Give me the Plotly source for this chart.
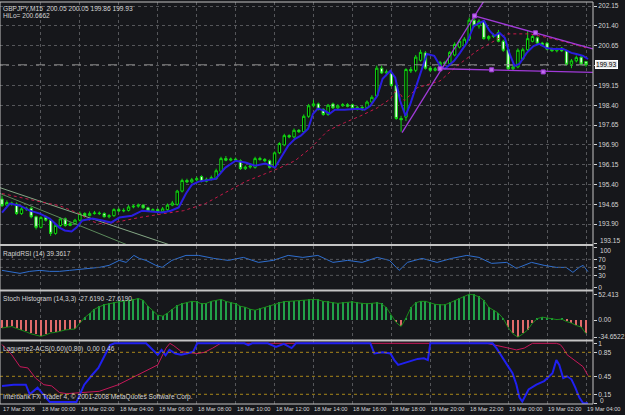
import plotly.graph_objects as go
from plotly.subplots import make_subplots

# ---------------- data ----------------
bar_index = list(range(121))
open_ = [194.85,194.62,194.70,194.66,194.30,194.47,194.50,194.18,193.78,194.15,
         194.05,193.55,193.85,194.10,193.85,193.92,194.05,194.30,194.22,194.30,
         194.32,194.30,194.18,194.22,194.45,194.40,194.42,194.55,194.58,194.62,
         194.52,194.40,194.45,194.38,194.45,194.62,194.65,195.15,195.55,195.50,
         195.58,195.70,195.52,195.60,195.62,195.90,196.38,196.32,196.36,196.30,
         196.00,196.06,196.05,196.38,196.35,196.30,196.05,196.60,196.90,197.25,
         197.20,197.45,197.40,197.98,198.38,198.45,198.25,198.05,198.45,198.30,
         198.38,198.42,198.42,198.28,198.32,198.30,198.52,198.75,199.80,199.62,
         199.60,199.15,197.90,197.95,199.75,199.72,200.10,200.38,199.80,199.72,
         199.78,200.02,199.98,200.30,200.60,200.65,200.90,201.62,201.40,201.58,
         200.92,201.00,201.15,200.82,200.50,199.78,199.85,200.15,200.50,200.82,
         200.95,200.75,200.75,200.52,200.46,200.56,200.46,199.95,200.08,200.22,
         200.05]
high = [194.98,194.80,194.75,194.72,194.55,194.56,194.55,194.22,194.20,194.22,
        194.10,193.90,194.15,194.15,193.98,194.10,194.38,194.35,194.38,194.40,
        194.38,194.35,194.28,194.50,194.52,194.50,194.62,194.65,194.68,194.66,
        194.56,194.50,194.50,194.55,194.68,194.78,195.20,195.62,195.62,195.65,
        195.70,195.75,195.66,195.74,196.00,196.45,196.48,196.42,196.42,196.35,
        196.12,196.18,196.45,196.45,196.40,196.35,196.65,197.00,197.32,197.30,
        197.52,197.50,198.05,198.45,198.60,198.50,198.28,198.45,198.50,198.44,
        198.48,198.48,198.46,198.38,198.38,198.58,198.78,199.90,199.90,199.75,
        199.68,199.20,198.00,199.80,199.85,200.30,200.50,200.45,199.88,199.85,
        200.08,200.08,200.45,200.78,200.90,200.98,201.72,201.80,201.65,201.62,
        201.05,201.12,201.25,200.88,200.55,199.92,200.55,200.58,201.20,201.05,
        201.00,200.80,200.80,200.58,200.58,200.60,200.50,200.15,200.28,200.26,
        200.05]
low = [194.55,194.58,194.60,194.25,194.25,194.40,194.12,193.70,193.74,194.00,
       193.45,193.50,193.80,193.80,193.82,193.88,194.00,194.18,194.20,194.26,
       194.25,194.15,194.12,194.18,194.36,194.35,194.38,194.50,194.52,194.48,
       194.36,194.36,194.34,194.35,194.40,194.58,194.60,195.10,195.45,195.45,
       195.52,195.48,195.48,195.55,195.58,195.85,196.28,196.28,196.28,195.95,
       195.95,196.00,196.00,196.30,196.25,196.00,196.00,196.55,196.85,197.15,
       197.15,197.35,197.35,197.92,198.32,198.20,198.00,198.00,198.26,198.25,
       198.34,198.32,198.24,198.20,198.18,198.26,198.48,198.70,199.58,199.50,
       199.10,197.85,197.40,197.80,199.62,199.65,200.05,199.75,199.65,199.68,
       199.74,199.92,199.94,200.25,200.55,200.60,200.85,201.35,201.30,200.88,
       200.85,200.95,200.78,200.42,199.72,199.70,199.80,200.10,200.45,200.78,
       200.70,200.62,200.48,200.42,200.40,200.42,199.90,199.80,200.02,199.90,
       199.86]
close = [194.60,194.72,194.66,194.30,194.48,194.50,194.18,193.78,194.15,194.05,
         193.55,193.85,194.10,193.85,193.92,194.05,194.30,194.22,194.30,194.32,
         194.30,194.18,194.22,194.45,194.40,194.42,194.55,194.58,194.62,194.52,
         194.40,194.45,194.38,194.48,194.62,194.70,195.15,195.55,195.50,195.58,
         195.62,195.52,195.60,195.66,195.92,196.38,196.32,196.36,196.33,196.00,
         196.06,196.10,196.38,196.35,196.30,196.05,196.60,196.95,197.25,197.20,
         197.45,197.40,197.98,198.38,198.45,198.25,198.05,198.40,198.30,198.38,
         198.42,198.36,198.28,198.32,198.30,198.52,198.70,199.80,199.62,199.66,
         199.15,197.90,197.85,199.75,199.70,200.22,200.40,199.80,199.72,199.78,
         200.02,199.98,200.40,200.70,200.82,200.90,201.62,201.40,201.58,200.92,
         201.00,201.05,200.82,200.48,199.78,199.85,200.48,200.50,200.92,201.00,
         200.75,200.70,200.52,200.46,200.50,200.46,199.95,200.08,200.20,199.96,
         199.93]

# fast moving average (blue) read at these bar positions
ma_fast_idx = [0,1.6,3.7,5.7,7.8,9.8,11.8,12.9,14.3,15.3,16.5,18.6,20.6,22.4,24.1,26.7,28.8,30.8,32.9,34.7,
               36.3,37.8,39.0,40.4,41.8,43.9,45.9,48.0,50.0,52.0,54.1,56.1,57.3,58.8,60.2,61.4,62.9,63.9,64.9,66.3,
               67.3,68.4,70.4,73.1,74.5,75.7,77.1,78.2,79.8,80.8,81.8,82.9,83.9,85.7,87.3,88.8,90.0,91.0,92.9,94.1,
               95.5,96.9,99.0,100.2,101.2,102.2,103.3,104.3,105.3,106.3,107.8,109.2,110.4,111.8,113.3,115.3,117.0,118.0,119.4,120.4]
ma_fast_val = [194.34,194.68,194.60,194.41,194.30,194.11,193.77,193.66,193.62,193.77,194.04,194.11,194.04,193.96,194.15,194.22,194.41,194.38,194.34,194.41,
               194.53,195.06,195.39,195.51,195.55,195.62,196.04,196.30,196.23,196.11,196.19,196.04,196.41,196.87,197.13,197.25,197.51,198.08,198.27,198.19,
               198.08,198.23,198.23,198.27,198.23,198.38,198.76,199.40,199.70,199.44,198.57,198.00,198.45,199.44,200.34,200.27,199.89,199.78,200.08,200.38,
               200.76,201.40,201.59,201.21,201.02,201.14,200.95,200.34,199.89,199.96,200.38,200.64,200.72,200.57,200.53,200.53,200.38,200.34,200.27,200.15]
# slow moving average (crimson dotted)
ma_slow_idx = [0,3.7,7.8,11.8,15.9,18.0,20.0,23.1,28.2,33.3,37.3,41.8,45.9,50.0,54.1,56.7,60.2,63.5,66.9,70.4,
               73.7,77.1,79.8,81.2,82.7,85.3,90.0,93.5,97.6,101.0,103.7,108.4,112.4,116.5,120.0]
ma_slow_val = [195.06,194.90,194.75,194.60,194.30,194.04,193.92,193.96,194.15,194.30,194.41,194.68,195.09,195.51,195.81,196.00,196.30,196.79,197.43,197.74,
               198.00,198.30,198.64,199.02,198.57,199.06,199.32,199.89,200.46,200.83,201.10,201.10,200.95,200.76,200.57]

# drawn trend lines: (bar position, price) anchors
trend_up_idx = [82.2, 99.0]
trend_up_px = [197.36, 202.34]
trend_dn_idx = [97.1, 121.4]
trend_dn_px = [201.78, 200.53]
trend_dn_pts_idx = [97.1, 109.6]
trend_dn_pts_px = [201.78, 201.14]
trend_flat_idx = [90.0, 121.4]
trend_flat_px = [199.78, 199.64]
trend_flat_pts_idx = [90.0, 100.6, 111.2]
trend_flat_pts_px = [199.78, 199.74, 199.66]
chan1_idx = [-0.4, 34.9]
chan1_px = [195.28, 193.09]
chan2_idx = [-0.4, 26.1]
chan2_px = [195.06, 193.09]
bid_price = 199.93

# RapidRSI
rsi_idx = [0,1.6,3.7,5.7,7.8,9.8,11.8,13.9,16.5,18.6,20,22,24.1,25.5,27.1,28.2,29.6,31.6,32.9,34.9,37.8,40.4,
           43.5,46.5,49.6,52.7,55.7,58.8,61.8,64.9,68,71,74,77.1,79.6,81.6,83.3,86.3,89.4,92.4,95.5,98,
           100.6,103.7,105.7,108.8,111.4,113.9,115.9,117.3,118.6,119.4,120.4]
rsi_val = [42.5,40,35,40,42.5,40,40,42.5,45,47.5,50,55,67.5,62.5,80,72.5,67.5,55,50,67.5,80,80,
           72.5,67.5,75,62.5,67.5,80,75,80,62.5,67.5,62.5,75,67.5,42.5,62.5,72.5,62.5,72.5,80,75,
           60,62.5,47.5,62.5,55,50,50,37.5,50,55,39.36]

# Stoch histogram (one value per bar)
stoch_val = [-16,-14,-13,-17,-20,-24,-28,-30,-33,-30,
             -26,-25,-22,-20,-19,-18,-6,5,13,22,
             27,31,33,35.6,37,38.5,39,41,44,40,
             28,18,10,8,14,22,29,33,36,38,
             37,33,34,38,40,42,38,35,33,28,
             26,22,20,23,26,29,32,35,37.5,38,
             38.5,38.8,40,41,42,41,38,37,35,34,
             35,36,37,35,33.6,33,34,35,33,25,
             10,-5,-13,4,25,35,38,38,35,32,
             31,31,35,39,44,48,52.41,51,47,40,
             26,20,14,3,-15,-28,-34.65,-28,-20,-6,
             3,6,4,2,1,2,-3,-6,-11,-14,
             -27.62]

# Laguerre lines
lag_fast_idx = [0,2.4,4.9,5.7,7.3,8.6,9.8,15.3,16.9,18.6,19.8,21.0,22.2,23.1,29.6,32.0,32.8,33.6,34.4,35.6,
                36.8,38.0,39.3,40.1,49.8,50.6,51.4,54.6,56.3,57.9,59.5,60.4,75.7,76.5,78.2,79.8,80.6,81.4,82.6,83.8,
                85.4,86.7,87.5,88.0,100.8,101.6,103.3,104.9,105.7,106.3,106.9,108.2,109.8,111.4,113.1,113.9,114.5,115.3,116.1,117.0,
                117.8,118.6,119.4,120.4]
lag_fast_val = [0.29,0.31,0.31,0.15,0.26,0.14,0.02,0.02,0.31,0.48,0.59,0.78,0.97,1.0,1.0,0.81,0.89,0.80,0.89,0.83,
                0.81,0.83,0.86,1.0,1.0,0.97,1.0,1.0,0.94,0.99,0.92,1.0,1.0,0.83,0.85,0.83,0.72,0.64,0.67,0.70,
                0.74,0.75,0.72,1.0,1.0,0.92,0.70,0.50,0.31,0.10,0.03,0.23,0.31,0.37,0.50,0.72,0.64,0.42,0.45,0.40,
                0.26,0.10,0.0,0.0]
lag_slow_idx = [0,2.0,3.7,5.3,6.9,8.6,10.2,11.8,13.3,15.9,20.0,23.9,28.0,32.0,33.7,34.5,35.3,36.9,40.0,41.6,
                43.3,44.9,99.6,101.6,104.1,105.7,107.3,109.0,113.9,114.7,115.3,116.1,117.8,119.4,120.4]
lag_slow_val = [0.98,0.81,0.61,0.59,0.42,0.31,0.29,0.18,0.16,0.18,0.20,0.31,0.48,0.64,0.92,1.0,0.96,0.86,0.83,0.85,
                0.92,1.0,1.0,0.97,0.92,0.89,0.92,1.0,1.0,0.98,0.92,0.81,0.70,0.61,0.46]

# axis ticks
date_tick_idx = [0,8,16,24,32,40,48,56,64,72,80,88,96,104,112,120]
date_tick_text = ["17 Mar 2008","18 Mar 00:00","18 Mar 02:00","18 Mar 04:00","18 Mar 06:00",
                  "18 Mar 08:00","18 Mar 10:00","18 Mar 12:00","18 Mar 14:00","18 Mar 16:00",
                  "18 Mar 18:00","18 Mar 20:00","18 Mar 22:00","19 Mar 00:00","19 Mar 02:00","19 Mar 04:00"]
price_ticks = [193.15,193.90,194.65,195.40,196.15,196.90,197.65,198.40,199.15,199.90,200.65,201.40,202.15]
price_tick_text = ["","193.90","194.65","195.40","196.15","196.90","197.65","198.40","199.15","",
                   "200.65","201.40","202.15"]
price_bottom_label = 193.15
rsi_ticks = [0,30,50,70,100]
rsi_tick_text = ["0","30","50","70",""]
rsi_top_label = 100
rsi_levels = [30,50,70]
stoch_ticks = [-34.6522,0,52.413]
stoch_tick_text = ["-34.6522","0.00","52.413"]
lag_ticks = [0,0.15,0.45,0.85,1]
lag_tick_text = ["","0.15","0.45","0.85","1"]
lag_bottom_label = 0
lag_levels = [0.15,0.45,0.85]

# ---------------- style ----------------
BG = "#16171b"
GRID = "#55565a"
TXT = "#d4d4d4"
FONT = "Liberation Sans, Arial, sans-serif"
FS = 6.6
FS_DATE = 5.7
XR = [-0.41, 121.43]
DOM = {1: [0.398, 1.0], 2: [0.284, 0.393], 3: [0.160, 0.280], 4: [0.0, 0.156]}

fig = make_subplots(rows=4, cols=1, shared_xaxes=True, vertical_spacing=0.0)

fig.add_trace(go.Scatter(x=chan1_idx, y=chan1_px, mode="lines",
                         line=dict(color="#86a886", width=1)), row=1, col=1)
fig.add_trace(go.Scatter(x=chan2_idx, y=chan2_px, mode="lines",
                         line=dict(color="#5c8a5c", width=1)), row=1, col=1)
fig.add_trace(go.Scatter(x=[XR[0], XR[1]], y=[bid_price, bid_price], mode="lines",
                         line=dict(color="#8a8a8a", width=1, dash="dash")), row=1, col=1)
fig.add_trace(go.Candlestick(x=bar_index, open=open_, high=high, low=low, close=close,
                             increasing=dict(line=dict(color="#10d810", width=1), fillcolor="#000000"),
                             decreasing=dict(line=dict(color="#10d810", width=1), fillcolor="#f4fff4"),
                             whiskerwidth=0), row=1, col=1)
fig.add_trace(go.Scatter(x=ma_slow_idx, y=ma_slow_val, mode="lines",
                         line=dict(color="#c81848", width=1, dash="dot")), row=1, col=1)
fig.add_trace(go.Scatter(x=ma_fast_idx, y=ma_fast_val, mode="lines",
                         line=dict(color="#2a1ee0", width=2)), row=1, col=1)
for xs, ys in [(trend_up_idx, trend_up_px), (trend_dn_idx, trend_dn_px), (trend_flat_idx, trend_flat_px)]:
    fig.add_trace(go.Scatter(x=xs, y=ys, mode="lines", line=dict(color="#a03ad8", width=1.3)), row=1, col=1)
fig.add_trace(go.Scatter(x=trend_dn_pts_idx + trend_flat_pts_idx, y=trend_dn_pts_px + trend_flat_pts_px,
                         mode="markers", marker=dict(symbol="square", size=4, color="#c070f0",
                                                     line=dict(color="#a03ad8", width=1))), row=1, col=1)

# RSI
fig.add_trace(go.Scatter(x=rsi_idx, y=rsi_val, mode="lines", line=dict(color="#2f6fd0", width=1)), row=2, col=1)

# Stoch histogram
bar_cols = ["#22a048" if v >= 0 else "#e06a6a" for v in stoch_val]
fig.add_trace(go.Bar(x=bar_index, y=stoch_val, marker=dict(color=bar_cols, line=dict(width=0)),
                     width=0.22), row=3, col=1)
fig.add_trace(go.Scatter(x=bar_index, y=stoch_val, mode="lines", line=dict(color="#1a8a1a", width=1)), row=3, col=1)

# Laguerre
fig.add_trace(go.Scatter(x=lag_slow_idx, y=lag_slow_val, mode="lines", line=dict(color="#c8185a", width=1)), row=4, col=1)
fig.add_trace(go.Scatter(x=lag_fast_idx, y=lag_fast_val, mode="lines", line=dict(color="#2020f0", width=2)), row=4, col=1)

for r in range(1, 5):
    xa = "xaxis" if r == 1 else f"xaxis{r}"
    ya = "yaxis" if r == 1 else f"yaxis{r}"
    fig.layout[xa].update(range=XR, tickvals=date_tick_idx[1:], showticklabels=False, ticks="",
                          showgrid=True, gridcolor=GRID, griddash="dot", gridwidth=1,
                          zeroline=False, rangeslider=dict(visible=False), fixedrange=True)
    fig.layout[ya].update(domain=DOM[r], side="right", ticks="outside", ticklen=3, tickcolor=TXT,
                          zeroline=False, fixedrange=True, tickfont=dict(family=FONT, size=FS, color=TXT))

fig.layout.yaxis.update(range=[193.149, 202.306], tickvals=price_ticks, ticktext=price_tick_text,
                        showgrid=True, gridcolor=GRID, griddash="dot")
fig.layout.yaxis2.update(range=[-6.25, 103.5], tickvals=rsi_ticks, ticktext=rsi_tick_text, showgrid=False)
fig.layout.yaxis3.update(range=[-39.71, 58.08], tickvals=stoch_ticks, ticktext=stoch_tick_text, showgrid=False)
fig.layout.yaxis4.update(range=[-0.012, 1.034], tickvals=lag_ticks, ticktext=lag_tick_text, showgrid=False)

shapes = []
for lv in rsi_levels:
    shapes.append(dict(type="line", xref="paper", x0=0, x1=1, yref="y2", y0=lv, y1=lv,
                       line=dict(color=GRID, width=1, dash="dot")))
for lv in lag_levels:
    shapes.append(dict(type="line", xref="paper", x0=0, x1=1, yref="y4", y0=lv, y1=lv,
                       line=dict(color="#a8861a", width=1, dash="dot")))
SEP = "#c4c4c4"
for yb in [0.3958, 0.2821, 0.158]:
    shapes.append(dict(type="line", xref="paper", x0=0, x1=1, yref="paper", y0=yb, y1=yb,
                       line=dict(color=SEP, width=2)))
shapes.append(dict(type="rect", xref="paper", x0=0, x1=1, yref="paper", y0=0, y1=1,
                   line=dict(color=SEP, width=1)))

ann = []
def txt(s, x, y, xref="paper", yref="paper", xanchor="left", yanchor="top", size=FS, **kw):
    d = dict(text=s, x=x, y=y, xref=xref, yref=yref, xanchor=xanchor, yanchor=yanchor,
             showarrow=False, font=dict(family=FONT, size=size, color=TXT), borderpad=0)
    d.update(kw)
    ann.append(d)

txt("GBPJPY,M15  200.05 200.05 199.86 199.93", 0.004, 1.0, yshift=-2)
txt("HiLo= 200.6662", 0.004, 1.0, yshift=-9)
txt("RapidRSI (14) 39.3617", 0.004, 0.393, yshift=-3)
txt("Stoch Histogram (14,3,3) -27.6190 -27.6190", 0.004, 0.280, yshift=-3)
txt("Laguerre2-ACS(0.60)(0.80)  0.00 0.46", 0.004, 0.156, yshift=-3)
txt("Interbank FX Trader 4, © 2001-2008 MetaQuotes Software Corp.", 0.004, 0.0, yanchor="bottom", yshift=2)
for xi, t in zip(date_tick_idx, date_tick_text):
    txt(t, xi, 0.0, xref="x4", yanchor="top", yshift=-1, size=FS_DATE)
# edge labels of the right scales, nudged inside their panels
txt(f"{price_bottom_label:.2f}", 1.0, price_bottom_label, yref="y", yanchor="middle", xshift=6, yshift=3)
txt(str(rsi_top_label), 1.0, rsi_top_label, yref="y2", yanchor="middle", xshift=6, yshift=-3)
txt(str(lag_bottom_label), 1.0, lag_bottom_label, yref="y4", yanchor="middle", xshift=6, yshift=3)
ann.append(dict(text="199.93", x=1.0, y=bid_price, xref="paper", yref="y", xanchor="left", yanchor="middle",
                xshift=2, showarrow=False, bgcolor="#e8e8e8", bordercolor="#ffffff", borderwidth=1, borderpad=0,
                font=dict(family=FONT, size=FS, color="#000000")))

fig.update_layout(width=625, height=415, margin=dict(l=0, r=28, t=1, b=11),
                  paper_bgcolor=BG, plot_bgcolor=BG, showlegend=False, bargap=0,
                  shapes=shapes, annotations=ann, hovermode=False,
                  font=dict(family=FONT, size=FS, color=TXT))

fig.write_html("out.html")
